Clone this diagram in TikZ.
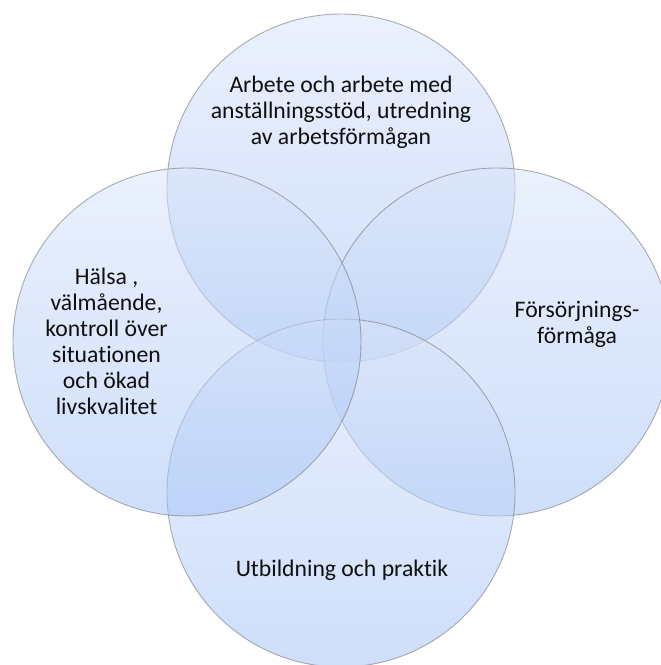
\documentclass[tikz,border=0pt]{standalone}
\usepackage{fontspec}
\setmainfont{Carlito}[Ligatures=NoCommon]
\newcommand{\stack}[1]{\begin{tabular}[t]{@{}c@{}}#1\end{tabular}}
\begin{document}
\begin{tikzpicture}[x=1pt,y=-1pt,
  bubble/.style={circle, inner sep=0pt, minimum size=348pt,
    top color=bubtop, bottom color=bubbot, fill opacity=0.55,
    draw=bubedge, draw opacity=0.6, line width=0.9pt},
  label/.style={anchor=base, inner sep=0pt, text=txt,
    font=\fontsize{23.7}{26}\selectfont}]
  \definecolor{bubtop}{RGB}{218,228,250}
  \definecolor{bubbot}{RGB}{166,196,246}
  \definecolor{bubedge}{RGB}{120,120,125}
  \definecolor{txt}{RGB}{15,15,15}
  \useasboundingbox (0,0) rectangle (661,665);
  % four overlapping circles
  \node[bubble] (work)   at (341,188) {};
  \node[bubble] (income) at (497,342) {};
  \node[bubble] (edu)    at (341,493) {};
  \node[bubble] (health) at (187,342) {};
  % labels, placed by the baseline of their first line
  \node[label] (tWork) at (341,92)
    {\stack{Arbete och arbete med\\anställningsstöd, utredning\\av arbetsförmågan}};
  \node[label] (tHealth) at (106.5,284.5)
    {\stack{Hälsa ,\\välmående,\\kontroll över\\situationen\\och ökad\\livskvalitet}};
  \node[label] (tIncome) at (577,317.5)
    {\stack{Försörjnings-\\förmåga}};
  \node[label] (tEdu) at (342,576)
    {Utbildning och praktik};
\end{tikzpicture}
\end{document}
